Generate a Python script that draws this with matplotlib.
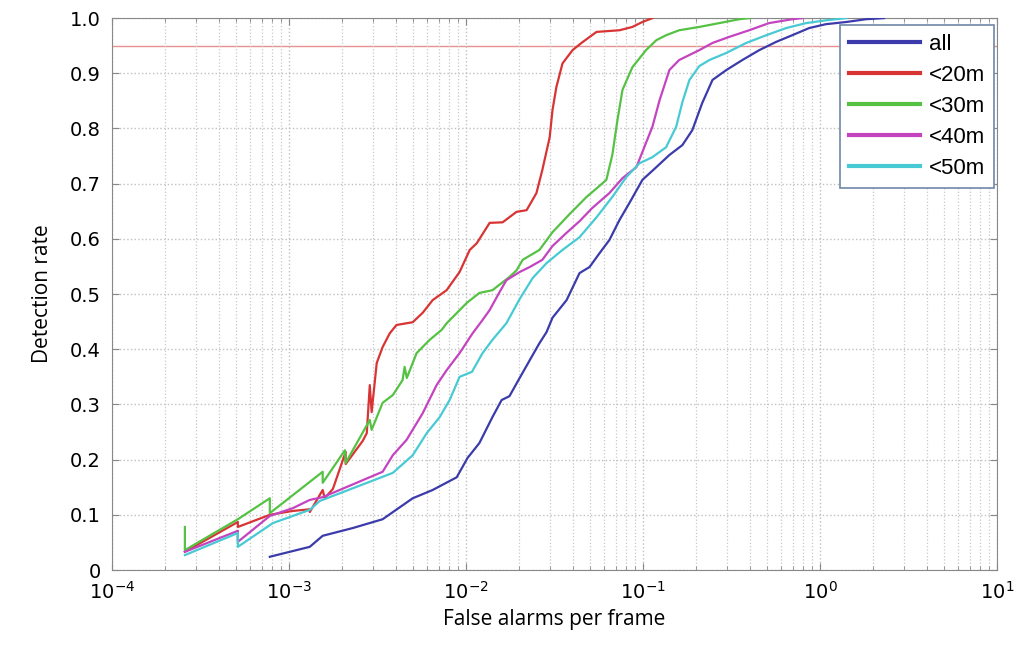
import matplotlib
matplotlib.use("Agg")
import matplotlib.pyplot as plt
from matplotlib.ticker import LogLocator, FixedLocator, NullFormatter

# curves (false alarms per frame, detection rate)
all_x = [7.79e-4, 1.31e-3, 1.55e-3, 2.29e-3, 3.38e-3, 5.0e-3, 6.48e-3, 8.86e-3, 1.02e-2, 1.19e-2,
         1.41e-2, 1.59e-2, 1.76e-2, 2.01e-2, 2.29e-2, 2.60e-2, 2.85e-2, 3.08e-2, 3.70e-2, 4.38e-2,
         4.99e-2, 5.68e-2, 6.46e-2, 7.36e-2, 8.38e-2, 9.93e-2, 0.119, 0.141, 0.167, 0.190,
         0.216, 0.247, 0.296, 0.364, 0.454, 0.566, 0.697, 0.869, 1.08, 1.41, 1.82, 2.30]
all_y = [0.024, 0.042, 0.062, 0.076, 0.092, 0.130, 0.145, 0.168, 0.203, 0.230,
         0.277, 0.308, 0.315, 0.348, 0.380, 0.411, 0.431, 0.457, 0.489, 0.538,
         0.549, 0.574, 0.598, 0.634, 0.665, 0.707, 0.730, 0.752, 0.770, 0.797,
         0.846, 0.888, 0.906, 0.924, 0.942, 0.957, 0.969, 0.982, 0.989, 0.993, 0.998, 1.0]

r20_x = [2.58e-4, 5.14e-4, 5.14e-4, 7.79e-4, 1.05e-3, 1.31e-3, 1.31e-3, 1.55e-3, 1.59e-3, 1.77e-3,
         2.09e-3, 2.09e-3, 2.61e-3, 2.75e-3, 2.86e-3, 2.93e-3, 3.13e-3, 3.38e-3, 3.71e-3, 4.05e-3,
         5.0e-3, 5.69e-3, 6.48e-3, 7.77e-3, 9.2e-3, 1.05e-2, 1.15e-2, 1.36e-2, 1.61e-2, 1.93e-2,
         2.20e-2, 2.50e-2, 2.70e-2, 2.97e-2, 3.08e-2, 3.24e-2, 3.51e-2, 4.0e-2, 4.49e-2, 5.46e-2,
         7.36e-2, 8.71e-2, 9.93e-2, 0.113]
r20_y = [0.033, 0.087, 0.078, 0.100, 0.107, 0.110, 0.105, 0.145, 0.130, 0.147,
         0.214, 0.192, 0.234, 0.248, 0.335, 0.286, 0.375, 0.404, 0.429, 0.444,
         0.449, 0.466, 0.489, 0.507, 0.540, 0.580, 0.592, 0.629, 0.630, 0.649,
         0.652, 0.683, 0.725, 0.784, 0.833, 0.875, 0.918, 0.942, 0.955, 0.975,
         0.978, 0.984, 0.993, 1.0]

r30_x = [2.58e-4, 2.58e-4, 5.14e-4, 7.79e-4, 7.79e-4, 1.55e-3, 1.55e-3, 2.07e-3, 2.09e-3, 2.86e-3,
         2.93e-3, 3.38e-3, 3.86e-3, 4.38e-3, 4.50e-3, 4.63e-3, 5.26e-3, 6.23e-3, 7.28e-3, 7.77e-3,
         1.01e-2, 1.19e-2, 1.41e-2, 1.76e-2, 1.93e-2, 2.09e-2, 2.60e-2, 3.08e-2, 3.85e-2, 4.80e-2,
         5.68e-2, 6.21e-2, 6.71e-2, 7.17e-2, 7.66e-2, 8.71e-2, 0.104, 0.119, 0.135, 0.160,
         0.208, 0.270, 0.350, 0.398]
r30_y = [0.078, 0.036, 0.092, 0.130, 0.103, 0.178, 0.158, 0.217, 0.194, 0.272,
         0.254, 0.303, 0.317, 0.344, 0.368, 0.348, 0.393, 0.417, 0.435, 0.447,
         0.484, 0.502, 0.507, 0.531, 0.543, 0.562, 0.580, 0.612, 0.645, 0.676,
         0.696, 0.707, 0.752, 0.815, 0.870, 0.911, 0.942, 0.960, 0.969, 0.978,
         0.984, 0.991, 0.998, 1.0]

r40_x = [2.58e-4, 5.14e-4, 5.14e-4, 7.79e-4, 1.05e-3, 1.31e-3, 1.55e-3, 3.38e-3, 3.86e-3, 4.62e-3,
         5.69e-3, 6.82e-3, 7.77e-3, 9.2e-3, 1.09e-2, 1.24e-2, 1.36e-2, 1.55e-2, 1.69e-2, 2.01e-2,
         2.29e-2, 2.70e-2, 3.08e-2, 3.70e-2, 4.38e-2, 5.17e-2, 6.46e-2, 7.66e-2, 9.18e-2, 0.104,
         0.113, 0.124, 0.141, 0.160, 0.208, 0.247, 0.307, 0.398, 0.516, 0.697, 0.793]
r40_y = [0.033, 0.071, 0.051, 0.098, 0.112, 0.127, 0.132, 0.178, 0.208, 0.236,
         0.284, 0.335, 0.362, 0.393, 0.429, 0.453, 0.471, 0.504, 0.525, 0.540,
         0.549, 0.562, 0.587, 0.611, 0.632, 0.656, 0.683, 0.710, 0.730, 0.774,
         0.803, 0.851, 0.906, 0.924, 0.942, 0.955, 0.966, 0.978, 0.991, 0.998, 1.0]

r50_x = [2.58e-4, 5.14e-4, 5.14e-4, 8.1e-4, 1.31e-3, 1.49e-3, 3.86e-3, 5.0e-3, 6.0e-3, 7.1e-3,
         8.08e-3, 9.2e-3, 1.08e-2, 1.24e-2, 1.41e-2, 1.69e-2, 2.01e-2, 2.38e-2, 2.85e-2, 3.51e-2,
         4.38e-2, 5.46e-2, 6.71e-2, 8.05e-2, 9.55e-2, 0.113, 0.135, 0.154, 0.167, 0.183,
         0.208, 0.237, 0.296, 0.383, 0.497, 0.644, 0.836, 1.08, 1.41]
r50_y = [0.027, 0.067, 0.042, 0.085, 0.109, 0.125, 0.176, 0.208, 0.248, 0.277,
         0.308, 0.350, 0.359, 0.393, 0.417, 0.447, 0.491, 0.529, 0.556, 0.580,
         0.603, 0.639, 0.676, 0.712, 0.737, 0.748, 0.766, 0.803, 0.848, 0.888,
         0.913, 0.924, 0.937, 0.955, 0.969, 0.982, 0.991, 0.996, 1.0]

labels = ["all", "<20m", "<30m", "<40m", "<50m"]
colors = ["#3b3bab", "#d83434", "#55c244", "#c444c0", "#48cad4"]
target_rate = 0.95

fig = plt.figure(figsize=(10.24, 6.47), dpi=100)
ax = fig.add_axes([0.1094, 0.119, 0.8642, 0.853])

ax.axhline(target_rate, color="#e89090", lw=1.0, zorder=1)

series = [(all_x, all_y), (r20_x, r20_y), (r30_x, r30_y), (r40_x, r40_y), (r50_x, r50_y)]
for (xs, ys), lab, col in zip(series, labels, colors):
    ax.plot(xs, ys, color=col, lw=1.6, label=lab, zorder=3)

ax.set_xscale("log")
ax.set_xlim(1e-4, 1e1)
ax.set_ylim(0, 1.0)
ax.xaxis.set_major_locator(LogLocator(base=10, numticks=10))
ax.xaxis.set_minor_locator(LogLocator(base=10, subs=range(2, 10), numticks=100))
ax.xaxis.set_minor_formatter(NullFormatter())
yt = [i / 10 for i in range(11)]
ax.yaxis.set_major_locator(FixedLocator(yt))
ax.set_yticklabels(["0"] + ["%.1f" % v for v in yt[1:]])

ax.grid(True, which="major", color="#c0c0c0", ls=":", lw=1.0)
ax.grid(True, which="minor", axis="x", color="#c8c8c8", ls=":", lw=0.9)
ax.tick_params(which="both", direction="in", top=True, right=True, color="#888888")
ax.tick_params(which="major", length=5, labelsize=14, pad=8)
ax.tick_params(which="minor", length=3)
for s in ax.spines.values():
    s.set_color("#888888")

ax.set_xlabel("False alarms per frame", fontsize=15, family="Open Sans", labelpad=4)
ax.set_ylabel("Detection rate", fontsize=15, family="Open Sans", labelpad=12)

leg = ax.legend(loc="upper right", bbox_to_anchor=(0.9965, 0.988),
                prop={"family": "Liberation Sans", "size": 16},
                handlelength=3.2, handletextpad=0.4, borderaxespad=0.0,
                fancybox=False, framealpha=1, labelspacing=0.45, borderpad=0.4)
leg.get_frame().set_edgecolor("#7088a8")
leg.get_frame().set_linewidth(1.2)
for line in leg.get_lines():
    line.set_linewidth(3.0)

fig.savefig("out.png", dpi=100)
